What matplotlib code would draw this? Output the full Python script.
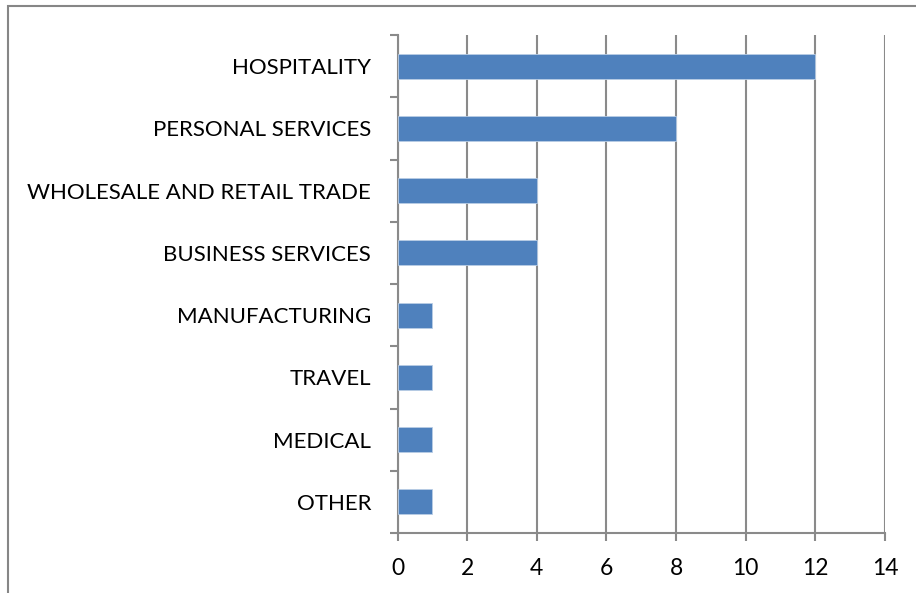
import matplotlib
matplotlib.use("Agg")
import matplotlib.pyplot as plt
from matplotlib.patches import Rectangle
import numpy as np

categories = ["HOSPITALITY", "PERSONAL SERVICES", "WHOLESALE AND RETAIL TRADE",
              "BUSINESS SERVICES", "MANUFACTURING", "TRAVEL", "MEDICAL", "OTHER"]
values = [12, 8, 4, 4, 1, 1, 1, 1]
x_ticks = [0, 2, 4, 6, 8, 10, 12, 14]

plt.rcParams["font.family"] = ["Lato", "DejaVu Sans"]

W, H = 916, 593
fig = plt.figure(figsize=(W / 100, H / 100), dpi=100)
fig.patch.set_facecolor("white")

# chart frame
fig.add_artist(Rectangle((8 / W, -0.01), 1.1, 1 - 6 / H + 0.01,
                         transform=fig.transFigure, fill=False,
                         edgecolor="#868686", linewidth=1.5))

left, right, top, bottom = 397.5, 885, 35, 533
ax = fig.add_axes([left / W, 1 - bottom / H, (right - left) / W, (bottom - top) / H])

n = len(categories)
ypos = np.arange(n)
ax.barh(ypos, values, height=0.4, color="#4F81BD", edgecolor="#B9CDE5",
        linewidth=0.6, zorder=3)

ax.set_xlim(0, 14)
ax.set_ylim(n - 0.5, -0.5)
ax.set_xticks(x_ticks)
ax.set_xticklabels([str(t) for t in x_ticks], fontsize=16.5)
ax.set_yticks(ypos)
ax.set_yticklabels(categories, fontsize=16)
ax.set_yticks(np.arange(-0.5, n, 1), minor=True)

ax.grid(axis="x", color="#8a8a8a", linewidth=1.5, zorder=0)
for s in ["top", "right"]:
    ax.spines[s].set_visible(False)
for s in ["left", "bottom"]:
    ax.spines[s].set_color("#8a8a8a")
    ax.spines[s].set_linewidth(1.5)

ax.tick_params(axis="y", which="major", length=0, pad=19)
ax.tick_params(axis="y", which="minor", length=6, color="#8a8a8a", width=1.5)
ax.tick_params(axis="x", which="major", length=6, color="#8a8a8a", width=1.5, pad=12)

fig.savefig("out.png", dpi=100, facecolor="white")
